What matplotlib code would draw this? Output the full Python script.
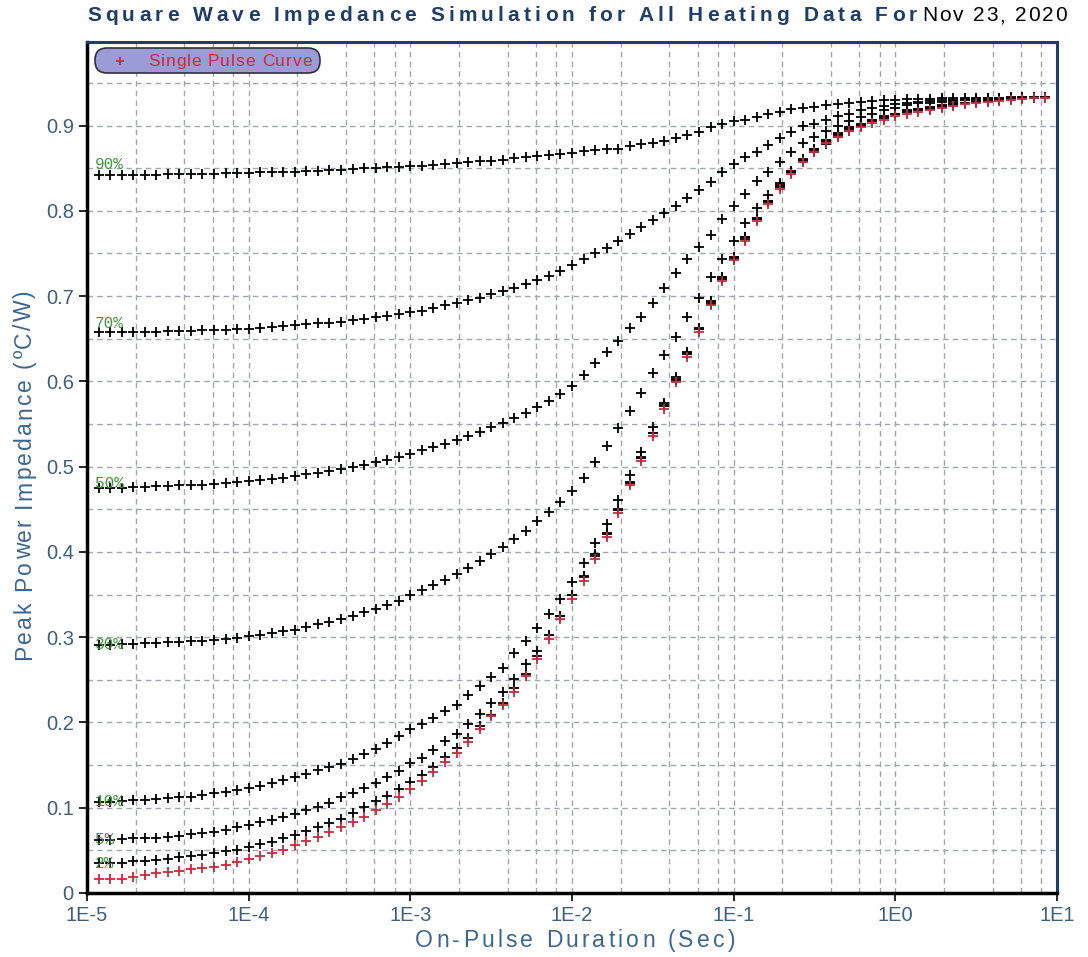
import numpy as np
import matplotlib
matplotlib.use('Agg')
import matplotlib.pyplot as plt
from matplotlib.ticker import FixedLocator, MultipleLocator, NullFormatter, FuncFormatter
from matplotlib.transforms import IdentityTransform
from matplotlib.patches import FancyBboxPatch
from matplotlib.lines import Line2D

plt.rcParams['font.family'] = ['Liberation Sans', 'DejaVu Sans']

# pulse durations: 14 steps per decade
mantissa = [1.0, 1.179, 1.389, 1.638, 1.931, 2.276, 2.683, 3.162, 3.728, 4.394, 5.179, 6.105, 7.197, 8.483]
decades = [1e-5, 1e-4, 1e-3, 1e-2, 1e-1, 1e0]
t_on = np.array([m * d for d in decades for m in mantissa])[1:]

single_pulse = [
    .016, .0165, .017, .019, .021, .023, .025, .026, .028, .029,
    .031, .033, .036, .040, .043, .047, .051, .056, .061, .066,
    .071, .077, .083, .089, .097, .104, .113, .122, .131, .142,
    .154, .164, .177, .192, .207, .220, .236, .254, .275, .298,
    .321, .345, .366, .392, .418, .446, .478, .507, .536, .568,
    .599, .629, .658, .689, .718, .742, .765, .788, .808, .826,
    .843, .857, .869, .879, .887, .894, .898, .903, .907, .911,
    .914, .916, .918, .921, .923, .925, .927, .928, .929, .930,
    .931, .932, .932]

duty_2 = [
    .035, .035, .035, .037, .0375, .0385, .040, .042, .043, .045,
    .047, .049, .051, .054, .057, .060, .064, .068, .073, .077,
    .082, .087, .094, .101, .108, .114, .122, .130, .138, .148,
    .159, .170, .182, .196, .209, .223, .240, .257, .278, .302,
    .325, .349, .370, .395, .421, .449, .481, .510, .539, .571,
    .602, .632, .661, .691, .720, .744, .767, .790, .810, .828,
    .845, .859, .871, .881, .889, .896, .900, .905, .909, .913,
    .916, .918, .920, .922, .924, .926, .928, .929, .930, .931,
    .932, .932, .933]

duty_5 = [
    .062, .062, .063, .064, .064, .065, .066, .067, .069, .070,
    .072, .074, .077, .080, .083, .0856, .089, .0925, .0975, .101,
    .106, .112, .117, .123, .129, .136, .143, .152, .158, .168,
    .178, .187, .198, .210, .223, .236, .251, .268, .284, .302,
    .325, .349, .372, .397, .422, .450, .482, .511, .540, .572,
    .603, .633, .662, .693, .722, .746, .769, .792, .812, .830,
    .847, .861, .873, .883, .891, .898, .902, .907, .911, .914,
    .917, .919, .921, .923, .925, .927, .928, .929, .930, .931,
    .932, .933, .933]

duty_10 = [
    .107, .107, .108, .109, .109, .110, .111, .112, .113, .115,
    .117, .119, .121, .123, .126, .129, .132, .136, .140, .144,
    .148, .151, .157, .163, .169, .176, .184, .192, .198, .205,
    .213, .220, .232, .243, .253, .264, .281, .295, .311, .327,
    .345, .365, .387, .410, .433, .461, .490, .517, .546, .575,
    .605, .634, .663, .694, .722, .746, .769, .791, .811, .829,
    .846, .860, .872, .882, .890, .897, .901, .906, .910, .914,
    .917, .919, .921, .923, .925, .927, .929, .930, .931, .932,
    .932, .933, .933]

duty_30 = [
    .291, .291, .292, .292, .293, .293, .294, .294, .295, .296,
    .297, .298, .299, .301, .303, .305, .307, .309, .312, .315,
    .318, .321, .325, .329, .333, .338, .343, .349, .355, .361,
    .367, .374, .381, .389, .397, .406, .415, .425, .436, .447,
    .459, .472, .487, .505, .524, .545, .565, .586, .610, .631,
    .652, .675, .698, .722, .744, .765, .786, .803, .819, .833,
    .846, .859, .869, .878, .887, .894, .900, .906, .910, .914,
    .918, .920, .922, .924, .926, .927, .928, .929, .930, .931,
    .932, .932, .933]

duty_50 = [
    .475, .475, .475, .476, .476, .477, .477, .478, .478, .479,
    .480, .481, .482, .483, .484, .486, .487, .489, .491, .493,
    .495, .497, .500, .502, .505, .508, .511, .515, .519, .523,
    .527, .531, .536, .541, .546, .551, .557, .563, .570, .577,
    .585, .594, .608, .622, .634, .647, .663, .676, .692, .709,
    .727, .743, .758, .772, .790, .806, .820, .835, .846, .857,
    .869, .879, .887, .894, .900, .905, .910, .914, .918, .921,
    .924, .926, .927, .928, .929, .930, .931, .931, .932, .932,
    .932, .933, .933]

duty_70 = [
    .658, .658, .658, .658, .658, .658, .659, .659, .659, .660,
    .660, .660, .661, .662, .663, .664, .665, .666, .667, .668,
    .669, .670, .672, .673, .675, .677, .679, .681, .683, .686,
    .689, .692, .695, .698, .702, .706, .710, .714, .719, .724,
    .730, .736, .743, .750, .757, .765, .773, .781, .789, .797,
    .806, .815, .824, .834, .845, .855, .863, .869, .877, .886,
    .892, .899, .902, .907, .911, .914, .918, .921, .923, .925,
    .927, .928, .929, .930, .930, .931, .931, .932, .932, .932,
    .933, .933, .933]

duty_90 = [
    .842, .842, .842, .842, .842, .842, .843, .843, .843, .843,
    .843, .844, .844, .844, .845, .845, .846, .846, .847, .847,
    .848, .848, .849, .850, .850, .851, .851, .852, .853, .854,
    .855, .856, .857, .858, .859, .860, .862, .863, .864, .865,
    .867, .868, .870, .871, .872, .873, .876, .878, .880, .882,
    .886, .889, .893, .898, .902, .905, .907, .910, .913, .916,
    .919, .921, .922, .924, .925, .926, .928, .929, .930, .930,
    .931, .931, .931, .932, .932, .932, .932, .932, .932, .933,
    .933, .933, .933]

duty_curves = [duty_90, duty_70, duty_50, duty_30, duty_10, duty_5, duty_2]
duty_labels = ['90%', '70%', '50%', '30%', '10%', '5%', '2%']
duty_label_y = [0.845, 0.659, 0.471, 0.283, 0.099, 0.054, 0.026]

x_ticks = [1e-5, 1e-4, 1e-3, 1e-2, 1e-1, 1e0, 1e1]
x_tick_labels = ['1E-5', '1E-4', '1E-3', '1E-2', '1E-1', '1E0', '1E1']

navy = '#1d3d6b'
axis_blue = '#3c6690'
tick_blue = '#3f5f7f'
pulse_red = '#cc2a3a'

W, H = 1088, 957
fig = plt.figure(figsize=(W / 100, H / 100), dpi=100)
ax = fig.add_axes([87 / W, 1 - 893 / H, 970 / W, 851 / H])
renderer = fig.canvas.get_renderer()


def spaced_text(s, x0, y0, total, vertical=False, **kw):
    """Write s one glyph at a time (pixel coords) so it spans `total` px."""
    widths = []
    for ch in s:
        if ch == ' ':
            a = fig.text(0, 0, 'a a', **kw)
            b = fig.text(0, 0, 'aa', **kw)
            w = a.get_window_extent(renderer).width - b.get_window_extent(renderer).width
            a.remove()
            b.remove()
        else:
            tmp = fig.text(0, 0, ch, **kw)
            w = tmp.get_window_extent(renderer).width
            tmp.remove()
        widths.append(w)
    gap = (total - sum(widths)) / (len(s) - 1)
    pos = 0.0
    for ch, w in zip(s, widths):
        if ch != ' ':
            if vertical:
                fig.text(x0, y0 + pos, ch, rotation=90, rotation_mode='anchor',
                         ha='left', va='baseline', transform=IdentityTransform(), **kw)
            else:
                fig.text(x0 + pos, y0, ch, ha='left', va='baseline',
                         transform=IdentityTransform(), **kw)
        pos += w + gap


for curve in duty_curves:
    ax.plot(t_on, curve, linestyle='none', marker='+', markersize=6.5,
            markeredgewidth=1.3, color='black', zorder=3)
ax.plot(t_on, single_pulse, linestyle='none', marker='+', markersize=6.5,
        markeredgewidth=1.3, color=pulse_red, zorder=4)

for lab, yv in zip(duty_labels, duty_label_y):
    ax.text(1.12e-5, yv, lab, color='#3f9a3f', fontsize=11.5,
            family=['Liberation Mono', 'DejaVu Sans Mono'], va='bottom', ha='left', zorder=5)

ax.set_xscale('log')
ax.set_xlim(1e-5, 1e1)
ax.set_ylim(0, 0.998)

ax.xaxis.set_major_locator(FixedLocator(x_ticks))
ax.set_xticklabels(x_tick_labels)
ax.xaxis.set_minor_locator(FixedLocator([m * d for d in decades for m in (2, 4, 6, 8)]))
ax.xaxis.set_minor_formatter(NullFormatter())
ax.yaxis.set_major_locator(MultipleLocator(0.1))
ax.yaxis.set_minor_locator(MultipleLocator(0.05))
ax.yaxis.set_major_formatter(FuncFormatter(lambda v, p: '0' if abs(v) < 1e-9 else '%.1f' % v))

ax.grid(which='both', color='#a2a5ae', linestyle=(0, (4, 3)), linewidth=1.0)
ax.set_axisbelow(True)

ax.tick_params(which='major', direction='out', length=6, width=1.2, colors='black',
               labelcolor=tick_blue, labelsize=14.5)
ax.tick_params(which='minor', length=0)

for side in ('left', 'bottom'):
    ax.spines[side].set_linewidth(2.5)
    ax.spines[side].set_color('black')
for side in ('top', 'right'):
    ax.spines[side].set_linewidth(2.2)
    ax.spines[side].set_color(navy)

# axis titles, title and date, letter-spaced
spaced_text('Peak Power Impedance (ºC/W)', 31, H - 660, 370, vertical=True,
            color=axis_blue, fontsize=16.5)
spaced_text('On-Pulse Duration (Sec)', 415, H - 947, 320, color=axis_blue, fontsize=16.5)
spaced_text('Square Wave Impedance Simulation for All Heating Data For', 87, H - 21, 830,
            color=navy, fontsize=15, fontweight='bold',
            family=['Liberation Sans Narrow', 'Liberation Sans', 'DejaVu Sans'])
spaced_text('Nov 23, 2020', 922, H - 21, 145, color='black', fontsize=15)

# legend pill
fig.add_artist(FancyBboxPatch((95, H - 73), 225, 25, boxstyle='round,pad=0,rounding_size=12',
                              transform=IdentityTransform(), facecolor='#9b9bd8',
                              edgecolor='#303040', linewidth=1.2))
fig.add_artist(Line2D([120], [H - 60.5], marker='+', markersize=6, markeredgewidth=1.3,
                      color=pulse_red, transform=IdentityTransform()))
spaced_text('Single Pulse Curve', 148, H - 66, 164, color=pulse_red, fontsize=12.5)

fig.savefig('out.png', dpi=100, facecolor='white')
